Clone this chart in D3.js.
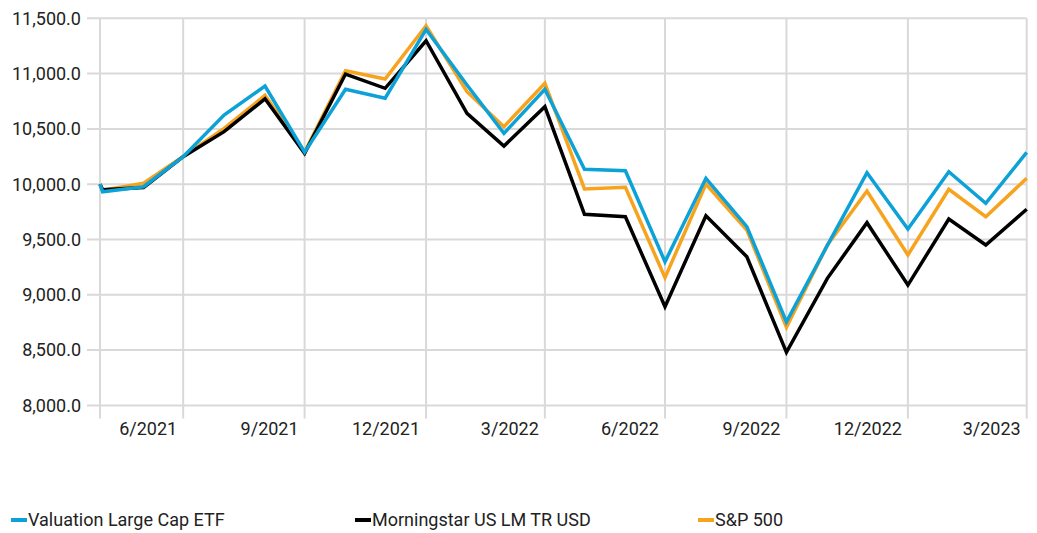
<html>
<script src="https://d3js.org/d3.v7.min.js"></script>
<style>
body{margin:0;background:#fff;}
svg{display:block;font-family:Roboto, "Liberation Sans", sans-serif;}
</style>
<body></body>
<script>
const width = 1037;
const height = 533;

const dates = ['2021-04-28','2021-04-30','2021-05-31','2021-06-30','2021-07-31','2021-08-31','2021-09-30',
  '2021-10-31','2021-11-30','2021-12-31','2022-01-31','2022-02-28','2022-03-31','2022-04-30','2022-05-31',
  '2022-06-30','2022-07-31','2022-08-31','2022-09-30','2022-10-31','2022-11-30','2022-12-31','2023-01-31',
  '2023-02-28','2023-03-31'];
const valuationETF = [10000,9932,9977,10249,10626,10888,10290,10858,10777,11400,10897,10460,10858,10135,10122,
  9299,10053,9616,8755,9447,10104,9595,10113,9827,10288];
const morningstarLM = [10000,9950,9970,10249,10475,10772,10279,10996,10867,11297,10641,10345,10701,9728,9706,
  8892,9715,9344,8480,9149,9652,9088,9685,9450,9773];
const sp500 = [10000,9945,10008,10252,10505,10803,10290,11026,10951,11433,10836,10520,10912,9957,9972,
  9155,10002,9586,8706,9450,9938,9360,9954,9706,10053];
const quarterTicks = ['2021-06-30','2021-09-30','2021-12-31','2022-03-31','2022-06-30','2022-09-30',
  '2022-12-31','2023-03-31'];
const yTicks = [8000,8500,9000,9500,10000,10500,11000,11500];

const series = [
  {name:'Valuation Large Cap ETF', values:valuationETF, color:'#0ca2d8'},
  {name:'Morningstar US LM TR USD', values:morningstarLM, color:'#000000'},
  {name:'S&P 500', values:sp500, color:'#f8a31d'}
];

const parse = d3.timeParse('%Y-%m-%d');
const dateObjs = dates.map(parse);

const x = d3.scaleTime()
    .domain([dateObjs[0], dateObjs[dateObjs.length-1]])
    .range([100, 1026.7]);
const y = d3.scaleLinear()
    .domain([8000, 11500])
    .range([405.4, 18.3]);

const svg = d3.select('body').append('svg')
    .attr('width', width)
    .attr('height', height);

// horizontal grid
svg.append('g').selectAll('line')
  .data(yTicks).enter().append('line')
    .attr('x1', 87).attr('x2', x.range()[1])
    .attr('y1', d=>y(d)).attr('y2', d=>y(d))
    .attr('stroke', '#d9d9d9').attr('stroke-width', 2);

// vertical grid incl. left edge
const vLines = [dateObjs[0]].concat(quarterTicks.map(parse));
svg.append('g').selectAll('line')
  .data(vLines).enter().append('line')
    .attr('x1', d=>x(d)).attr('x2', d=>x(d))
    .attr('y1', y(11500)).attr('y2', y(8000)+13)
    .attr('stroke', '#d9d9d9').attr('stroke-width', 2);

// y labels
svg.append('g').selectAll('text')
  .data(yTicks).enter().append('text')
    .attr('x', 81).attr('y', d=>y(d))
    .attr('dy', '0.35em')
    .attr('text-anchor', 'end')
    .attr('font-size', 18)
    .attr('fill', '#222')
    .text(d=>d3.format(',.1f')(d));

// x labels
const fmtX = d3.timeFormat('%-m/%Y');
svg.append('g').selectAll('text')
  .data(quarterTicks.map(parse)).enter().append('text')
    .attr('x', d=>x(d)-6).attr('y', 429)
    .attr('dy', '0.35em')
    .attr('text-anchor', 'end')
    .attr('font-size', 18)
    .attr('fill', '#222')
    .text(d=>fmtX(d));

// lines: orange under black under blue
const line = d3.line()
    .x((d,i)=>x(dateObjs[i]))
    .y(d=>y(d));
[series[2], series[1], series[0]].forEach(s=>{
  svg.append('path')
    .attr('d', line(s.values))
    .attr('fill', 'none')
    .attr('stroke', s.color)
    .attr('stroke-width', 3.5)
    .attr('stroke-linejoin', 'miter');
});

// legend
const legendX = [11, 355, 698];
const lg = svg.append('g').selectAll('g')
  .data(series).enter().append('g')
    .attr('transform', (d,i)=>`translate(${legendX[i]},520)`);
lg.append('line')
    .attr('x1', 0).attr('x2', 16)
    .attr('stroke', d=>d.color).attr('stroke-width', 4);
lg.append('text')
    .attr('x', 17).attr('dy', '0.35em')
    .attr('font-size', 18)
    .attr('fill', '#222')
    .text(d=>d.name);
</script>
</html>
